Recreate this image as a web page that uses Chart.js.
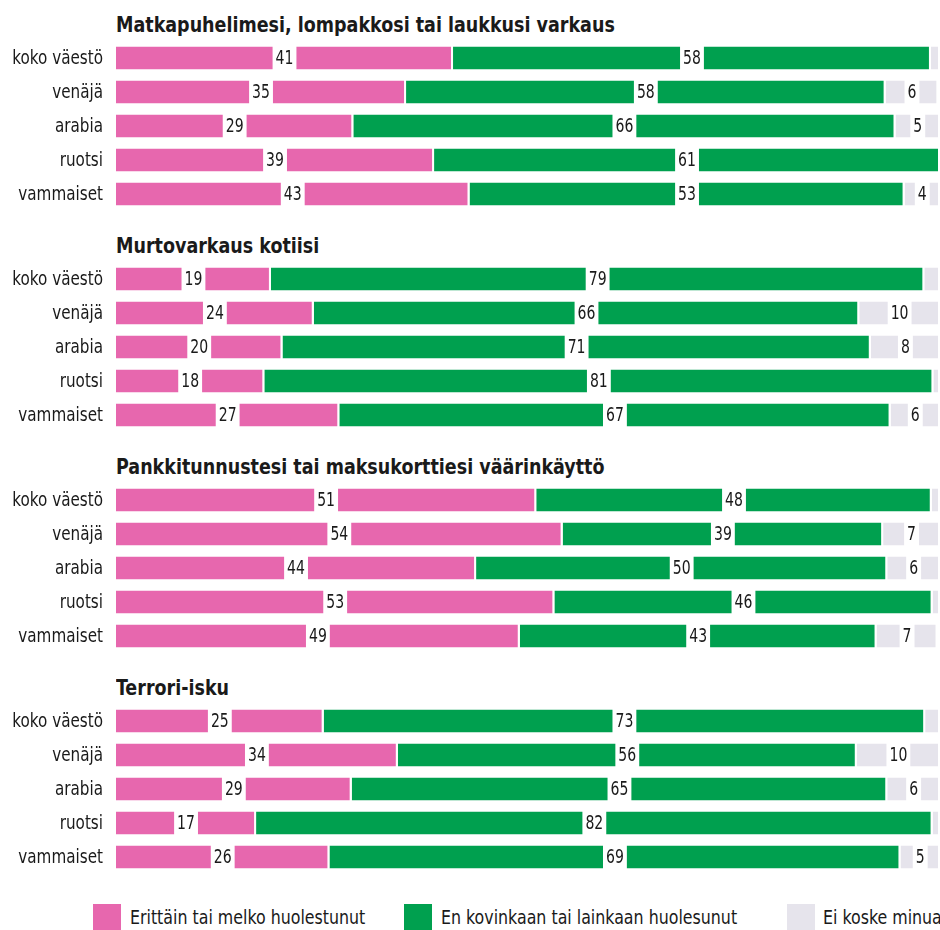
<!DOCTYPE html>
<html lang="fi">
<head>
<meta charset="utf-8">
<script src="https://cdn.jsdelivr.net/npm/chart.js@4/dist/chart.umd.min.js"></script>
<style>
  html, body { margin: 0; padding: 0; background: #fff; }
  body { position: relative; width: 940px; height: 930px; overflow: hidden; font-family: "DejaVu Sans Condensed", "DejaVu Sans", sans-serif; color: #1a1a1a; }
  .otsikko { position: absolute; left: 116px; font-weight: bold; font-size: 22px; line-height: 22px; white-space: nowrap; transform: scaleX(0.885); transform-origin: left center; }
  canvas.kaavio { position: absolute; left: 0; }
  .laatikko { position: absolute; top: 904px; width: 28px; height: 26px; }
  .nimi { position: absolute; top: 905px; font-size: 20px; line-height: 24px; white-space: nowrap; transform: scaleX(0.88); transform-origin: left center; }
</style>
</head>
<body>

<script>
// Aiheet ja vastaajaryhmät
const aiheet = [
  'Matkapuhelimesi, lompakkosi tai laukkusi varkaus',
  'Murtovarkaus kotiisi',
  'Pankkitunnustesi tai maksukorttiesi väärinkäyttö',
  'Terrori-isku'
];
const ryhmat = ['koko väestö', 'venäjä', 'arabia', 'ruotsi', 'vammaiset'];

// Vastausvaihtoehdot ja värit
const vastaukset = ['Erittäin tai melko huolestunut', 'En kovinkaan tai lainkaan huolesunut', 'Ei koske minua'];
const varit = ['#e767ae', '#00a04f', '#e6e4ec'];

// Osuudet (%) aiheittain, rivit ryhmien järjestyksessä
const huolestunut = [
  [40.9, 35.2, 28.8, 38.6, 42.9],
  [18.8, 24.0, 20.2, 18.0, 27.1],
  [51.0, 54.2, 43.7, 53.2, 49.0],
  [25.2, 34.2, 28.6, 17.0, 25.9]
];
const eiHuolestunut = [
  [58.0, 58.2, 65.8, 61.4, 52.8],
  [79.3, 66.2, 71.4, 81.2, 66.9],
  [48.0, 38.9, 49.9, 45.9, 43.3],
  [73.0, 55.7, 65.0, 82.1, 69.3]
];
const eiKoske = [
  [1.1, 6.4, 5.4, 0, 4.3],
  [1.9, 9.8, 8.4, 0.8, 6.0],
  [1.0, 6.9, 6.4, 0.9, 7.4],
  [1.8, 10.1, 6.4, 0.9, 4.8]
];

const fontti = '"DejaVu Sans Condensed", "DejaVu Sans", sans-serif';
const tekstiVari = '#1a1a1a';

// Ryhmien nimet vasemmalle, kavennettuna
const rivitPlugin = {
  id: 'rivit',
  afterDraw(chart) {
    const ctx = chart.ctx;
    const s = chart.scales.y;
    ctx.save();
    ctx.font = '20px ' + fontti;
    ctx.fillStyle = tekstiVari;
    ctx.textAlign = 'right';
    ctx.textBaseline = 'middle';
    chart.data.labels.forEach((nimi, i) => {
      const y = s.getPixelForValue(i);
      ctx.save();
      ctx.translate(chart.chartArea.left - 13, y + 1);
      ctx.scale(0.845, 1);
      ctx.fillText(nimi, 0, 0);
      ctx.restore();
    });
    ctx.restore();
  }
};

// Arvot palkin keskelle valkoisella taustalla
const arvoPlugin = {
  id: 'arvot',
  afterDatasetsDraw(chart) {
    const ctx = chart.ctx;
    const k = 0.78;
    ctx.save();
    ctx.font = '20px ' + fontti;
    ctx.textAlign = 'center';
    ctx.textBaseline = 'middle';
    chart.data.datasets.forEach((ds, i) => {
      const meta = chart.getDatasetMeta(i);
      meta.data.forEach((bar, j) => {
        const v = ds.data[j];
        if (v < 3) return;
        const p = bar.getProps(['x', 'y', 'base', 'height'], true);
        const teksti = String(Math.round(v));
        const cx = (p.x + p.base) / 2;
        const w = ctx.measureText(teksti).width * k + 6;
        ctx.fillStyle = '#fff';
        ctx.fillRect(cx - w / 2, p.y - p.height / 2 - 1, w, p.height + 2);
        ctx.save();
        ctx.translate(cx, p.y + 1);
        ctx.scale(k, 1);
        ctx.fillStyle = tekstiVari;
        ctx.fillText(teksti, 0, 0);
        ctx.restore();
      });
    });
    ctx.restore();
  }
};

const sarjat = [huolestunut, eiHuolestunut, eiKoske];
const lohko = 221;     // yhden aiheen korkeus
const kaavioTop = 41;  // ensimmäisen kaavion yläreuna

aiheet.forEach((aihe, g) => {
  const otsikko = document.createElement('div');
  otsikko.className = 'otsikko';
  otsikko.style.top = (14 + g * lohko) + 'px';
  otsikko.textContent = aihe;
  document.body.appendChild(otsikko);

  const canvas = document.createElement('canvas');
  canvas.className = 'kaavio';
  canvas.width = 940;
  canvas.height = 170;
  canvas.style.top = (kaavioTop + g * lohko) + 'px';
  document.body.appendChild(canvas);

  new Chart(canvas, {
    type: 'bar',
    data: {
      labels: ryhmat,
      datasets: vastaukset.map((nimi, i) => ({
        label: nimi,
        data: sarjat[i][g],
        backgroundColor: varit[i],
        borderColor: '#ffffff',
        borderWidth: { left: 0, right: 2, top: 0, bottom: 0 },
        borderSkipped: false,
        barPercentage: 1,
        categoryPercentage: 0.68
      }))
    },
    options: {
      indexAxis: 'y',
      responsive: false,
      animation: false,
      layout: { padding: 0 },
      plugins: { legend: { display: false }, tooltip: { enabled: false } },
      scales: {
        x: { stacked: true, min: 0, max: 100, display: false },
        y: {
          stacked: true,
          grid: { display: false },
          border: { display: false },
          ticks: { display: false },
          afterFit(scale) { scale.width = 116; }
        }
      }
    },
    plugins: [arvoPlugin, rivitPlugin]
  });
});

// Selite
const laatikotX = [93, 404, 787];
const nimetX = [130, 441, 823];
vastaukset.forEach((nimi, i) => {
  const b = document.createElement('div');
  b.className = 'laatikko';
  b.style.left = laatikotX[i] + 'px';
  b.style.background = varit[i];
  document.body.appendChild(b);
  const t = document.createElement('div');
  t.className = 'nimi';
  t.style.left = nimetX[i] + 'px';
  t.textContent = nimi;
  document.body.appendChild(t);
});
</script>
</body>
</html>
